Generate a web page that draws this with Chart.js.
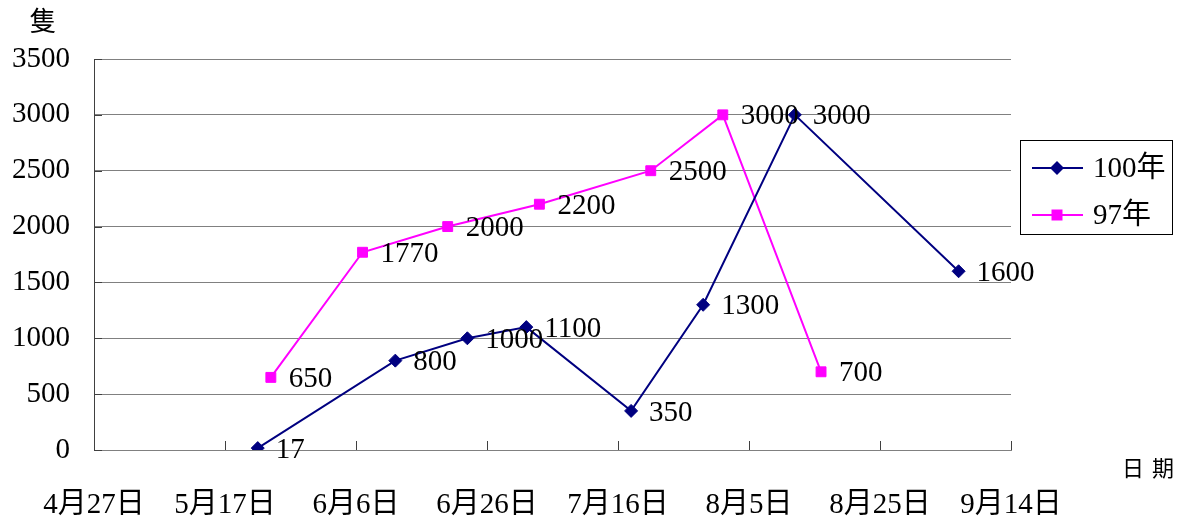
<!DOCTYPE html>
<html>
<head>
<meta charset="utf-8">
<script src="https://cdn.jsdelivr.net/npm/chart.js@4.4.0/dist/chart.umd.min.js"></script>
<style>
html, body { margin: 0; padding: 0; background: #fff; }
#wrap { width: 1184px; height: 517px; }
</style>
</head>
<body>
<div id="wrap"><canvas id="shipChart" width="1184" height="517"></canvas></div>
<script>
// data (dates are month/day)
var startDate = '4/27';
var xTickLabels = ['4月27日', '5月17日', '6月6日', '6月26日', '7月16日', '8月5日', '8月25日', '9月14日'];

var dates100 = ['5/22', '6/12', '6/23', '7/2', '7/18', '7/29', '8/12', '9/6'];
var values100 = [17, 800, 1000, 1100, 350, 1300, 3000, 1600];

var dates97 = ['5/24', '6/7', '6/20', '7/4', '7/21', '8/1', '8/16'];
var values97 = [650, 1770, 2000, 2200, 2500, 3000, 700];

var fontFamily = "'Liberation Serif', 'Noto Sans CJK TC', serif";
var fontSize = 29;

function dayOffset(md) {
    var p = md.split('/');
    var s = startDate.split('/');
    var a = Date.UTC(2000, +p[0] - 1, +p[1]);
    var b = Date.UTC(2000, +s[0] - 1, +s[1]);
    return Math.round((a - b) / 86400000);
}

function toPoints(dates, values) {
    return dates.map(function (d, i) {
        return { x: dayOffset(d), y: values[i] };
    });
}

var valueLabels = {
    id: 'valueLabels',
    afterDatasetsDraw: function (chart) {
        var ctx = chart.ctx;
        ctx.save();
        ctx.font = fontSize + 'px ' + fontFamily;
        ctx.fillStyle = '#000';
        ctx.textAlign = 'left';
        ctx.textBaseline = 'middle';
        chart.data.datasets.forEach(function (ds, i) {
            chart.getDatasetMeta(i).data.forEach(function (pt, j) {
                ctx.fillText(String(ds.data[j].y), pt.x + 18, pt.y + 2);
            });
        });
        ctx.restore();
    }
};

// small tick marks pointing into the plot, like the original
var innerTicks = {
    id: 'innerTicks',
    beforeDatasetsDraw: function (chart) {
        var ctx = chart.ctx, area = chart.chartArea;
        var xs = chart.scales.x, ys = chart.scales.y;
        ctx.save();
        ctx.strokeStyle = '#404040';
        ctx.lineWidth = 1;
        ctx.beginPath();
        xs.ticks.forEach(function (t) {
            var px = Math.round(xs.getPixelForValue(t.value)) + 0.5;
            ctx.moveTo(px, area.bottom);
            ctx.lineTo(px, area.bottom - 9);
        });
        ys.ticks.forEach(function (t) {
            var py = Math.round(ys.getPixelForValue(t.value)) + 0.5;
            ctx.moveTo(area.left, py);
            ctx.lineTo(area.left + 8, py);
        });
        ctx.stroke();
        ctx.restore();
    }
};

var boxLegend = {
    id: 'boxLegend',
    afterDraw: function (chart) {
        var ctx = chart.ctx;
        ctx.save();
        ctx.strokeStyle = '#000';
        ctx.lineWidth = 1;
        ctx.strokeRect(1020.5, 140.5, 152, 94);

        var rows = [168, 215];
        chart.data.datasets.forEach(function (ds, i) {
            var y = rows[i];
            ctx.strokeStyle = ds.borderColor;
            ctx.fillStyle = ds.backgroundColor;
            ctx.lineWidth = 2;
            ctx.beginPath();
            ctx.moveTo(1032, y);
            ctx.lineTo(1083, y);
            ctx.stroke();
            ctx.beginPath();
            if (ds.pointStyle === 'rectRot') {
                ctx.moveTo(1057 - 7, y);
                ctx.lineTo(1057, y - 7);
                ctx.lineTo(1057 + 7, y);
                ctx.lineTo(1057, y + 7);
                ctx.closePath();
            } else {
                ctx.rect(1057 - 5.5, y - 5.5, 11, 11);
            }
            ctx.fill();
            ctx.fillStyle = '#000';
            ctx.font = fontSize + 'px ' + fontFamily;
            ctx.textAlign = 'left';
            ctx.textBaseline = 'middle';
            ctx.fillText(ds.label, 1093, y + 1);
        });

        // axis titles
        ctx.fillStyle = '#000';
        ctx.textAlign = 'center';
        ctx.textBaseline = 'middle';
        ctx.font = "27px 'Noto Sans CJK TC'";
        ctx.fillText('隻', 43, 21);
        ctx.font = "22px 'Noto Sans CJK TC'";
        ctx.fillText('日', 1133, 468);
        ctx.fillText('期', 1163, 468);
        ctx.restore();
    }
};

var config = {
    type: 'line',
    data: {
        datasets: [
            {
                label: '100年',
                data: toPoints(dates100, values100),
                borderColor: '#000080',
                backgroundColor: '#000080',
                borderWidth: 2,
                pointStyle: 'rectRot',
                pointRadius: 6.5,
                pointBorderWidth: 1,
                tension: 0,
                fill: false
            },
            {
                label: '97年',
                data: toPoints(dates97, values97),
                borderColor: '#FF00FF',
                backgroundColor: '#FF00FF',
                borderWidth: 2,
                pointStyle: 'rect',
                pointRadius: 7,
                pointBorderWidth: 1,
                tension: 0,
                fill: false
            }
        ]
    },
    options: {
        responsive: false,
        animation: false,
        devicePixelRatio: 1,
        layout: {
            padding: { top: 59, right: 173, left: 0, bottom: 0 }
        },
        scales: {
            x: {
                type: 'linear',
                min: 0,
                max: 140,
                afterFit: function (scale) { scale.height = 67; },
                grid: { display: false },
                border: { display: true, color: '#808080', width: 1 },
                ticks: {
                    stepSize: 20,
                    autoSkip: false,
                    maxRotation: 0,
                    padding: 30,
                    color: '#000',
                    font: { family: fontFamily, size: fontSize },
                    callback: function (value) {
                        return xTickLabels[Math.round(value / 20)];
                    }
                }
            },
            y: {
                min: 0,
                max: 3500,
                afterFit: function (scale) { scale.width = 94; },
                grid: { color: '#808080', lineWidth: 1, drawTicks: false },
                border: { display: true, color: '#404040', width: 1 },
                ticks: {
                    stepSize: 500,
                    padding: 24,
                    color: '#000',
                    font: { family: fontFamily, size: fontSize },
                    callback: function (value) { return String(value); }
                }
            }
        },
        plugins: {
            legend: { display: false },
            tooltip: { enabled: false }
        }
    },
    plugins: [innerTicks, valueLabels, boxLegend]
};

var ctx = document.getElementById('shipChart').getContext('2d');
var chart = new Chart(ctx, config);
</script>
</body>
</html>
